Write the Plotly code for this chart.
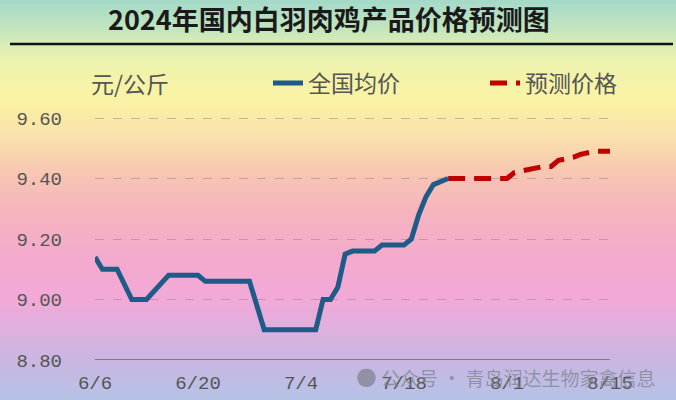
import plotly.graph_objects as go

# ---------------- data ----------------
actual_dates = ["2024-06-06", "2024-06-07", "2024-06-09", "2024-06-11", "2024-06-13",
                "2024-06-16", "2024-06-20", "2024-06-21", "2024-06-27", "2024-06-29",
                "2024-07-06", "2024-07-07", "2024-07-08", "2024-07-09", "2024-07-10",
                "2024-07-11", "2024-07-14", "2024-07-15", "2024-07-18", "2024-07-19",
                "2024-07-20", "2024-07-21", "2024-07-22", "2024-07-24"]
actual_values = [9.14, 9.10, 9.10, 9.00, 9.00,
                 9.08, 9.08, 9.06, 9.06, 8.90,
                 8.90, 9.00, 9.00, 9.04, 9.15,
                 9.16, 9.16, 9.18, 9.18, 9.20,
                 9.28, 9.34, 9.38, 9.40]

forecast_dates = ["2024-07-24", "2024-07-31", "2024-08-01", "2024-08-02", "2024-08-04",
                  "2024-08-06", "2024-08-07", "2024-08-08", "2024-08-10", "2024-08-11",
                  "2024-08-13", "2024-08-15"]
forecast_values = [9.40, 9.40, 9.40, 9.42, 9.43,
                   9.44, 9.44, 9.46, 9.47, 9.48,
                   9.49, 9.49]

tick_dates = ["2024-06-06", "2024-06-20", "2024-07-04", "2024-07-18", "2024-08-01", "2024-08-15"]
tick_labels = ["6/6", "6/20", "7/4", "7/18", "8/1", "8/15"]
y_ticks = [8.80, 9.00, 9.20, 9.40, 9.60]
y_tick_labels = ["8.80", "9.00", "9.20", "9.40", "9.60"]

title_text = "2024年国内白羽肉鸡产品价格预测图"
unit_text = "元/公斤"
name_actual = "全国均价"
name_forecast = "预测价格"
watermark_text = "公众号 · 青岛润达生物家禽信息"

# ---------------- layout geometry ----------------
W, H = 676, 400
L, R, T, B = 95, 66, 115, 40
pw, ph = W - L - R, H - T - B


def px_x(x):
    return (x - L) / pw


def px_y(y):
    return (H - B - y) / ph


# background gradient stops (pixel y, colour)
stops = [(0, (163, 217, 201)), (30, (197, 230, 189)), (60, (236, 243, 174)),
         (100, (251, 243, 165)), (140, (249, 223, 172)), (170, (248, 200, 178)),
         (210, (245, 180, 189)), (260, (244, 170, 205)), (300, (242, 169, 216)),
         (330, (221, 176, 222)), (360, (202, 182, 226)), (400, (181, 194, 230))]


def colour_at(y):
    for (y0, c0), (y1, c1) in zip(stops[:-1], stops[1:]):
        if y0 <= y <= y1:
            t = (y - y0) / (y1 - y0)
            c = [round(a + (b - a) * t) for a, b in zip(c0, c1)]
            return "rgb(%d,%d,%d)" % tuple(c)
    return "rgb(%d,%d,%d)" % stops[-1][1]


shapes = []
band = 4
for y in range(0, H, band):
    shapes.append(dict(type="rect", xref="paper", yref="paper",
                       x0=px_x(0), x1=px_x(W), y0=px_y(y + band + 0.5), y1=px_y(y),
                       fillcolor=colour_at(y + band / 2), line=dict(width=0), layer="below"))
# title underline
shapes.append(dict(type="line", xref="paper", yref="paper",
                   x0=px_x(10), x1=px_x(673), y0=px_y(44), y1=px_y(44),
                   line=dict(color="#111111", width=2.5)))

fig = go.Figure()
fig.add_trace(go.Scatter(x=forecast_dates, y=forecast_values, mode="lines", name=name_forecast,
                         line=dict(color="#c00000", width=5, dash="17px,9px")))
fig.add_trace(go.Scatter(x=actual_dates, y=actual_values, mode="lines", name=name_actual,
                         line=dict(color="#1d5b88", width=5)))

mono = "Liberation Mono"
fig.update_layout(
    width=W, height=H,
    margin=dict(l=L, r=R, t=T, b=B, autoexpand=False),
    paper_bgcolor="rgba(0,0,0,0)", plot_bgcolor="rgba(0,0,0,0)",
    shapes=shapes,
    showlegend=True,
    legend=dict(orientation="h", x=px_x(268), y=px_y(83), xanchor="left", yanchor="middle",
                font=dict(family="Noto Sans CJK SC", size=23, color="#555555"),
                bgcolor="rgba(0,0,0,0)", traceorder="reversed",
                entrywidth=172, entrywidthmode="pixels"),
    xaxis=dict(type="date", range=["2024-06-06", "2024-08-15"],
               tickvals=tick_dates, ticktext=tick_labels,
               showgrid=False, zeroline=False, showline=False,
               ticks="", ticklabelstandoff=9,
               tickfont=dict(family=mono, size=19, color="#555555")),
    yaxis=dict(range=[8.80, 9.61], tickvals=y_ticks, ticktext=y_tick_labels,
               showgrid=True, gridcolor="rgba(140,140,150,0.55)", griddash="dash", gridwidth=1,
               zeroline=False, showline=False, ticks="", ticklabelstandoff=32,
               tickfont=dict(family=mono, size=19, color="#555555")),
    annotations=[
        dict(text=title_text, xref="paper", yref="paper", x=px_x(329), y=px_y(19),
             xanchor="center", yanchor="middle", showarrow=False,
             font=dict(family="Noto Sans CJK SC", size=27, color="#1a1a1a", weight="bold")),
        dict(text=unit_text, xref="paper", yref="paper", x=px_x(130), y=px_y(83),
             xanchor="center", yanchor="middle", showarrow=False,
             font=dict(family="Noto Sans CJK SC", size=23, color="#555555")),
        dict(text="●", xref="paper", yref="paper", x=px_x(366), y=px_y(376),
             xanchor="center", yanchor="middle", showarrow=False,
             font=dict(family="DejaVu Sans", size=24, color="rgba(130,130,145,0.75)")),
        dict(text=watermark_text, xref="paper", yref="paper", x=px_x(658), y=px_y(377),
             xanchor="right", yanchor="middle", showarrow=False,
             font=dict(family="Noto Sans CJK SC", size=19, color="rgba(130,130,145,0.75)")),
    ],
)
# bottom axis line at 8.80
fig.add_hline(y=8.80, line=dict(color="#666677", width=1.5))

fig.write_html("out.html", config={"displayModeBar": False},
               post_script="document.body.style.margin='0px';document.body.style.overflow='hidden';")
